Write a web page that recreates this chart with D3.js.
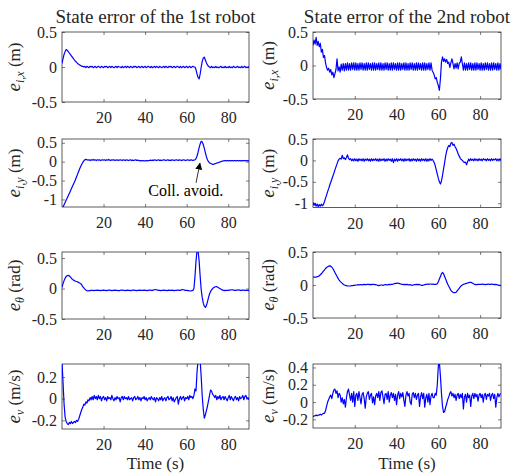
<!DOCTYPE html>
<html>
<head>
<meta charset="UTF-8">
<title>State error</title>
<script src="https://d3js.org/d3.v7.min.js"></script>
<style>
  body { margin:0; background:#fff; }
  svg text { font-family: "Liberation Serif", "Times New Roman", Times, "DejaVu Serif", serif; fill:#262626; }
</style>
</head>
<body>
<svg id="fig" width="513" height="475"></svg>
<script>
// samples every 0.5 s, t = 0 .. 90
const dt = 0.5;

// e_x, robot 1
const ex1 = [
  0.05,0.12,0.18,0.22,0.25,0.24,0.22,0.2,0.18,0.16,0.14,0.12,0.1,0.08,0.07,0.05,0.04,0.03,0.02,0.01,
  0.01,0,0.01,-0.01,0.01,0,-0.01,0.01,0,0.01,-0.01,0,0.01,-0.01,0,0.01,0,-0.01,0.01,0,
  -0.01,0.01,0,0.01,-0.01,0,0.01,-0.01,0.01,0,-0.01,0,0.01,-0.01,0.01,0,0,-0.01,0.01,-0.01,
  0,0.01,-0.01,0.01,0,-0.01,0.01,0,-0.01,0.01,0,0.01,-0.01,0,0.01,-0.01,0,0.01,-0.01,0,
  0.01,-0.01,0,0.01,0,-0.01,0.01,-0.01,0,0.01,-0.01,0.01,0,-0.01,0.01,0,-0.01,0,0.01,-0.01,
  0.01,0,-0.01,0.01,0,0.01,-0.01,0,0.01,-0.01,0,0.01,0,-0.01,0.01,-0.01,0,0.01,-0.01,0,
  0.01,-0.01,0,0.01,-0.01,0,0.01,0,0,-0.04,-0.1,-0.15,-0.17,-0.1,0,0.08,0.13,0.14,0.1,0.06,
  0.03,0.01,0,-0.01,0.01,-0.01,0,-0.01,0.01,-0.01,0,-0.01,0,0.01,-0.01,0,-0.01,0.01,-0.01,0,
  -0.01,0.01,-0.01,0,-0.01,0.01,0,-0.01,0,0.01,-0.01,0,-0.01,0.01,-0.01,0,0.01,-0.01,0,-0.01,0.01
];

// e_x, robot 2
const ex2 = [
  0.3,0.38,0.32,0.42,0.3,0.36,0.28,0.33,0.2,0.24,0.12,0.15,0.04,-0.03,-0.07,-0.04,-0.1,-0.06,-0.14,-0.1,
  -0.18,-0.12,-0.06,0.1,-0.08,-0.02,-0.1,0.02,-0.07,0.03,-0.08,0.03,-0.07,0.04,-0.07,0.03,-0.07,0.04,-0.06,0.04,
  -0.07,0.04,-0.07,0.03,-0.07,0.04,-0.06,0.04,-0.07,0.03,-0.07,0.04,-0.07,0.04,-0.06,0.03,-0.07,0.04,-0.07,0.04,
  -0.07,0.03,-0.06,0.04,-0.07,0.04,-0.07,0.03,-0.07,0.04,-0.06,0.04,-0.07,0.03,-0.07,0.04,-0.07,0.04,-0.06,0.03,
  -0.07,0.04,-0.07,0.04,-0.07,0.03,-0.06,0.04,-0.07,0.04,-0.07,0.03,-0.07,0.04,-0.06,0.04,-0.07,0.03,-0.07,0.04,
  -0.07,0.04,-0.06,0.03,-0.07,0.04,-0.07,0.04,-0.07,0.03,-0.06,0.04,-0.07,0.04,-0.07,-0.1,-0.14,-0.2,-0.18,-0.25,
  -0.3,-0.37,-0.2,0.05,0.13,0.06,0.1,0.05,0.09,0.03,0.05,-0.03,0.04,0.1,0.03,-0.05,0.03,-0.04,0.04,-0.05,
  0.03,0.05,0.13,0.03,-0.07,0.04,-0.07,0.03,-0.07,0.04,-0.06,0.04,-0.07,0.03,-0.07,0.04,-0.07,0.04,-0.06,0.03,
  -0.07,0.04,-0.07,0.03,-0.07,0.04,-0.06,0.04,-0.07,0.03,-0.07,0.04,-0.07,0.04,-0.06,0.03,-0.07,0.04,-0.07,0.03,-0.06
];

// e_y, robot 1
const ey1 = [
  -1.25,-1.2,-1.14,-1.08,-1.02,-0.96,-0.9,-0.84,-0.78,-0.72,-0.66,-0.6,-0.54,-0.47,-0.4,-0.33,-0.26,-0.19,-0.13,-0.07,
  -0.02,0.02,0.05,0.06,0.05,0.04,0.05,0.03,0.05,0.04,0.06,0.04,0.05,0.03,0.05,0.04,0.05,0.03,0.04,0.05,
  0.04,0.05,0.03,0.05,0.04,0.06,0.04,0.03,0.05,0.04,0.05,0.03,0.04,0.05,0.03,0.04,0.05,0.04,0.03,0.05,
  0.04,0.03,0.05,0.04,0.03,0.04,0.05,0.03,0.04,0.03,0.04,0.05,0.03,0.04,0.03,0.02,0.03,0.02,0.03,0.02,
  0.02,0.03,0.02,0.03,0.03,0.04,0.03,0.04,0.03,0.05,0.04,0.03,0.04,0.05,0.03,0.04,0.03,0.04,0.05,0.04,
  0.03,0.04,0.05,0.03,0.04,0.03,0.05,0.04,0.03,0.04,0.05,0.04,0.03,0.05,0.04,0.03,0.04,0.05,0.04,0.03,
  0.04,0.05,0.04,0.03,0.05,0.04,0.03,0.04,0.05,0.08,0.15,0.25,0.37,0.47,0.54,0.52,0.45,0.35,0.24,0.13,
  0.05,0,-0.03,-0.05,-0.06,-0.07,-0.07,-0.06,-0.05,-0.04,-0.03,-0.02,-0.01,0,0.01,0.02,0.02,0.03,0.02,0.03,
  0.02,0.03,0.02,0.03,0.03,0.02,0.03,0.02,0.03,0.03,0.02,0.03,0.02,0.03,0.02,0.03,0.03,0.02,0.03,0.02,0.03
];

// e_y, robot 2
const ey2 = [
  -0.98,-1.05,-1.0,-1.07,-1.02,-1.08,-1.03,-1.07,-1.02,-1.06,-1.03,-0.96,-0.88,-0.81,-0.73,-0.66,-0.58,-0.51,-0.44,-0.37,
  -0.3,-0.22,-0.15,-0.08,-0.01,0.03,0.05,0.03,0.12,0.04,0.06,0.02,0.07,0.13,0.05,0.02,0.04,-0.01,0.03,-0.01,
  0.04,-0.01,0.03,-0.02,0.04,0,0.03,-0.01,0.04,-0.02,0.03,0,0.04,-0.01,0.03,-0.02,0.04,-0.01,0.03,0,
  0.04,-0.01,0.03,-0.02,0.04,-0.01,0.03,0,0.04,-0.02,0.03,-0.01,0.04,0,0.03,-0.02,0.04,-0.05,0.03,-0.01,
  0.04,-0.02,0.03,0,0.04,-0.01,0.03,-0.02,0.04,-0.01,0.03,0,0.04,-0.02,0.03,-0.01,0.04,0,0.03,-0.02,
  0.04,-0.01,0.03,-0.02,0.04,0,0.03,-0.01,0.04,-0.02,0.03,-0.01,0.04,0,0.03,0,-0.05,-0.12,-0.22,-0.32,
  -0.42,-0.5,-0.55,-0.48,-0.35,-0.2,-0.05,0.1,0.22,0.3,0.35,0.32,0.4,0.42,0.35,0.38,0.32,0.28,0.22,0.15,
  0.1,0.05,0.02,0,-0.03,-0.05,-0.04,-0.1,-0.03,0.03,-0.01,0.04,0,0.03,-0.01,0.04,0,0.03,-0.01,0.04,
  0,0.03,-0.01,0.04,0.01,0.03,-0.01,0.04,0,0.03,-0.01,0.04,0,0.03,0.01,0.04,-0.01,0.03,0,0.04,0
];

// e_theta, robot 1
const th1 = [
  0.02,0.08,0.13,0.17,0.2,0.21,0.215,0.21,0.19,0.17,0.15,0.14,0.13,0.12,0.115,0.11,0.1,0.09,0.08,0.06,
  0.03,0.01,-0.01,-0.025,-0.035,-0.04,-0.035,-0.035,-0.03,-0.03,-0.03,-0.035,-0.03,-0.03,-0.025,-0.03,-0.03,-0.035,-0.03,-0.03,
  -0.025,-0.03,-0.03,-0.035,-0.03,-0.025,-0.025,-0.03,-0.035,-0.03,-0.03,-0.025,-0.03,-0.03,-0.035,-0.035,-0.03,-0.025,-0.025,-0.03,
  -0.03,-0.035,-0.03,-0.025,-0.03,-0.03,-0.035,-0.03,-0.025,-0.025,-0.03,-0.03,-0.035,-0.03,-0.03,-0.025,-0.03,-0.03,-0.03,-0.025,
  -0.03,-0.03,-0.035,-0.03,-0.025,-0.025,-0.03,-0.03,-0.025,-0.02,-0.015,-0.02,-0.025,-0.03,-0.03,-0.035,-0.03,-0.03,-0.025,-0.03,
  -0.03,-0.035,-0.03,-0.025,-0.03,-0.03,-0.025,-0.03,-0.035,-0.03,-0.03,-0.025,-0.025,-0.03,-0.03,-0.02,-0.015,-0.02,-0.025,-0.03,
  -0.03,-0.035,-0.035,-0.04,-0.04,-0.035,-0.03,0,0.2,0.45,0.63,0.62,0.45,0.2,-0.02,-0.15,-0.24,-0.29,-0.31,-0.28,
  -0.22,-0.15,-0.09,-0.05,-0.02,0,0.015,0.025,0.03,0.03,0.02,0.01,0,-0.01,-0.02,-0.03,-0.03,-0.035,-0.03,-0.03,
  -0.03,-0.025,-0.025,-0.02,-0.02,-0.025,-0.03,-0.03,-0.025,-0.025,-0.02,-0.025,-0.03,-0.03,-0.025,-0.025,-0.03,-0.03,-0.03,-0.03,-0.035
];

// e_theta, robot 2
const th2 = [
  0.12,0.12,0.12,0.12,0.125,0.13,0.14,0.155,0.17,0.19,0.21,0.23,0.25,0.265,0.275,0.285,0.29,0.285,0.27,0.25,
  0.22,0.19,0.16,0.13,0.1,0.075,0.055,0.04,0.025,0.01,0,-0.005,-0.01,-0.015,-0.015,-0.015,-0.015,-0.01,-0.01,-0.005,
  -0.005,0,0,0.005,0,0.005,0.005,0,0.005,0.01,0.005,0.005,0.01,0.01,0.005,0.01,0.005,0.01,0.01,0.005,
  0.005,0,-0.005,-0.01,-0.005,0,0,-0.005,0,0.005,0.005,0,0.005,0.01,0.005,0.01,0.01,0.015,0.02,0.025,
  0.025,0.03,0.025,0.02,0.015,0.01,0.01,0.005,0.01,0.005,0.01,0.005,0,0.005,0,-0.005,0,0.005,0.005,0.01,
  0.005,0.01,0.005,0,-0.005,-0.005,0,0.005,0.01,0.01,0.015,0.01,0.015,0.015,0.01,0.015,0.01,0.01,0.01,0.02,
  0.05,0.09,0.13,0.17,0.19,0.17,0.13,0.09,0.05,0.01,-0.02,-0.05,-0.08,-0.1,-0.11,-0.115,-0.115,-0.11,-0.09,-0.07,
  -0.05,-0.03,-0.01,0,0.01,0.015,0.02,0.025,0.03,0.035,0.04,0.04,0.035,0.025,0.015,0.01,0.005,0.005,0.01,0.01,
  0.01,0.01,0.015,0.01,0.01,0.005,0.01,0.01,0.015,0.01,0.01,0.015,0.01,0.01,0.005,0.01,0.005,0,-0.005,-0.005,-0.01
];

// e_v, robot 1
const ev1 = [
  0.34,0.15,-0.05,-0.17,-0.21,-0.23,-0.24,-0.22,-0.23,-0.21,-0.23,-0.22,-0.21,-0.22,-0.2,-0.21,-0.19,-0.16,-0.13,-0.1,
  -0.08,-0.05,-0.06,-0.03,-0.04,-0.01,-0.02,0.01,-0.01,0.02,-0.01,0.03,0,0.02,-0.01,0.03,0,0.02,-0.02,0.01,
  0.02,-0.01,0.01,-0.02,0.02,0,0.01,-0.01,0.03,0,-0.02,0.01,-0.01,0.02,0,0.01,-0.03,0.01,0.02,-0.01,
  0.02,0,0.01,-0.01,0.02,-0.01,0,0.01,-0.02,0.01,0.02,-0.01,0,0.02,-0.01,0.01,-0.02,0.01,0,0.02,
  -0.01,0.01,-0.02,0,0.01,-0.01,0.02,0,-0.01,0.01,-0.03,0.01,0,-0.02,0.01,-0.01,0.02,-0.02,0,0.01,
  -0.02,0.01,0.02,-0.01,0,0.02,-0.02,0.01,-0.03,-0.01,0.01,0.02,-0.05,0,0.02,-0.01,0.01,0.02,-0.02,0.01,
  0,0.02,-0.01,0.03,0.01,0.02,0,0.03,0.09,0.07,0.25,0.36,0.38,0.35,0.2,0.02,-0.1,-0.18,-0.15,-0.11,
  -0.07,-0.02,0.03,0.08,0.07,0.04,0.03,0.01,0.03,-0.01,0.02,0,0.03,-0.01,0.01,0.02,-0.01,0.02,0,-0.02,
  0.01,0.03,-0.01,0.02,0,-0.02,0.01,0.02,-0.01,0.01,-0.02,0.02,0,0.01,0.03,-0.01,0.02,0.03,0,0.01,-0.01
];

// e_v, robot 2
const ev2 = [
  -0.17,-0.16,-0.16,-0.15,-0.16,-0.15,-0.15,-0.14,-0.15,-0.14,-0.13,-0.13,-0.1,-0.05,0,0.03,0.06,0.08,0.04,0.1,
  0.14,0.15,0.1,0.13,0.05,0.1,0.08,0,0.05,-0.02,0.03,-0.06,0.05,0.12,0.15,0.08,0.02,0.1,0,0.12,
  -0.05,0.08,0.1,0.02,0.12,0.05,-0.02,0.09,0.11,0.04,-0.07,0.06,0.1,0.12,0.03,0.08,0.1,-0.01,0.06,-0.03,
  0.07,0.1,0.05,0.12,0.02,0.11,0.13,0.06,-0.02,0.09,0.1,0.03,0.12,0,0.08,0.11,0.05,0.1,0.02,0.09,
  -0.03,0.08,0.12,0.04,0.1,0.06,0.11,0.02,-0.05,0.08,0.12,0.07,0.1,0,-0.03,0.09,0.11,0.05,0.1,0.03,
  0.08,0.1,-0.05,0.06,0.11,0.04,0.1,-0.06,0.05,0.09,0,0.1,-0.03,0.07,0.1,0.05,0.05,0.1,0.08,0.2,
  0.42,0.46,0.3,0.1,-0.05,-0.12,-0.11,-0.06,-0.02,0.03,0.06,0.1,0.12,0.07,0.1,0.05,0.09,0.02,0.08,0.1,
  0.04,0.09,0.05,0.1,-0.08,0.06,0.09,0,0.1,0.05,0.08,-0.05,0.07,0.1,0.04,0.1,0.06,0.09,0.01,0.08,
  0.1,0.05,0.09,0,0.08,0.1,0.03,0.09,0.07,0.1,0.02,0.08,0.1,0.04,0.09,-0.06,0.05,0.1,0.06,0.09,0.1
];

const xTicks = [20, 40, 60, 80];
const ticksHalf = [-0.5, 0, 0.5];
const ticksEy = [-1, -0.5, 0, 0.5];
const ticksEv1 = [-0.2, 0, 0.2];
const ticksEv2 = [-0.2, 0, 0.2, 0.4];
const titles = ["State error of the 1st robot", "State error of the 2nd robot"];

const annotText = "Coll. avoid.";
const annotTextAt = [41.5, -0.91];
const arrowFrom = [64.5, -0.56];
const arrowTo = [66.4, -0.04];

// ---- layout ----
const FONT = '"Liberation Serif", "Times New Roman", Times, "DejaVu Serif", serif';
const svg = d3.select('#fig').attr('font-family', FONT);
const cols = [[62, 249], [313, 501]];
const rows = [
  [[32, 102], [32, 99]],
  [[139, 207], [139, 207.5]],
  [[252, 319], [252, 318]],
  [[364, 429], [364, 428]]
];
const labX = [20, 274];

const panels = [
  {c:0, r:0, data:ex1, dom:[-0.5, 0.5], ticks:ticksHalf, sub:'i,x', unit:'(m)'},
  {c:1, r:0, data:ex2, dom:[-0.5, 0.5], ticks:ticksHalf, sub:'i,x', unit:'(m)'},
  {c:0, r:1, data:ey1, dom:[-1.2, 0.6], ticks:ticksEy, sub:'i,y', unit:'(m)'},
  {c:1, r:1, data:ey2, dom:[-1.1, 0.5], ticks:ticksEy, sub:'i,y', unit:'(m)'},
  {c:0, r:2, data:th1, dom:[-0.5, 0.6], ticks:ticksHalf, sub:'θ', unit:'(rad)'},
  {c:1, r:2, data:th2, dom:[-0.5, 0.5], ticks:ticksHalf, sub:'θ', unit:'(rad)'},
  {c:0, r:3, data:ev1, dom:[-0.28, 0.32], ticks:ticksEv1, sub:'v', unit:'(m/s)'},
  {c:1, r:3, data:ev2, dom:[-0.3, 0.44], ticks:ticksEv2, sub:'v', unit:'(m/s)'}
];

const defs = svg.append('defs');
defs.append('marker')
  .attr('id', 'ahead')
  .attr('viewBox', '0 0 10 10')
  .attr('refX', 9).attr('refY', 5)
  .attr('markerWidth', 7).attr('markerHeight', 7)
  .attr('markerUnits', 'userSpaceOnUse')
  .attr('orient', 'auto')
  .append('path').attr('d', 'M0,0L10,5L0,10z').attr('fill', '#000');

panels.forEach((p, k) => {
  const [x0, x1] = cols[p.c];
  const [y0, y1] = rows[p.r][p.c];
  const x = d3.scaleLinear().domain([0, 90]).range([x0, x1]);
  const y = d3.scaleLinear().domain(p.dom).range([y1, y0]);
  const g = svg.append('g');

  defs.append('clipPath').attr('id', 'clip' + k)
    .append('rect').attr('x', x0).attr('y', y0).attr('width', x1 - x0).attr('height', y1 - y0);

  // axes, ticks inward on all sides
  const axB = g.append('g').attr('transform', `translate(0,${y1})`)
    .call(d3.axisBottom(x).tickValues(xTicks).tickSizeInner(-3).tickSizeOuter(0).tickPadding(10));
  const axT = g.append('g').attr('transform', `translate(0,${y0})`)
    .call(d3.axisTop(x).tickValues(xTicks).tickSizeInner(-3).tickSizeOuter(0).tickFormat(''));
  const axL = g.append('g').attr('transform', `translate(${x0},0)`)
    .call(d3.axisLeft(y).tickValues(p.ticks).tickSizeInner(-3).tickSizeOuter(0).tickPadding(5).tickFormat(d => String(d)));
  const axR = g.append('g').attr('transform', `translate(${x1},0)`)
    .call(d3.axisRight(y).tickValues(p.ticks).tickSizeInner(-3).tickSizeOuter(0).tickFormat(''));
  [axB, axT, axL, axR].forEach(a => {
    a.attr('font-family', FONT).attr('font-size', 16);
    a.select('.domain').remove();
    a.selectAll('line').attr('stroke', '#262626').attr('stroke-width', 0.6);
    a.selectAll('text').attr('fill', '#262626');
  });

  g.append('rect').attr('x', x0).attr('y', y0).attr('width', x1 - x0).attr('height', y1 - y0)
    .attr('fill', 'none').attr('stroke', '#262626').attr('stroke-width', 0.75);

  const line = d3.line().x((d, i) => x(i * dt)).y(d => y(d));
  g.append('path').datum(p.data)
    .attr('clip-path', `url(#clip${k})`)
    .attr('fill', 'none').attr('stroke', '#0000ff').attr('stroke-width', 1.2)
    .attr('stroke-linejoin', 'round')
    .attr('d', line);

  // y label
  const lab = g.append('text')
    .attr('transform', `translate(${labX[p.c]},${(y0 + y1) / 2}) rotate(-90)`)
    .attr('text-anchor', 'middle').attr('font-size', 17);
  lab.append('tspan').attr('font-style', 'italic').attr('font-size', 19).text('e');
  lab.append('tspan').attr('font-style', 'italic').attr('font-size', 12).attr('dy', 4).text(p.sub);
  lab.append('tspan').attr('dy', -4).text('\u00a0' + p.unit);

  if (p.r === 0) {
    svg.append('text').attr('x', (x0 + x1) / 2).attr('y', 22.5)
      .attr('text-anchor', 'middle').attr('font-size', 19).text(titles[p.c]);
  }
  if (p.r === 3) {
    svg.append('text').attr('x', (x0 + x1) / 2).attr('y', 469)
      .attr('text-anchor', 'middle').attr('font-size', 17).text('Time (s)');
  }
  if (k === 2) {
    g.append('line')
      .attr('x1', x(arrowFrom[0])).attr('y1', y(arrowFrom[1]))
      .attr('x2', x(arrowTo[0])).attr('y2', y(arrowTo[1]))
      .attr('stroke', '#000').attr('stroke-width', 0.8)
      .attr('marker-end', 'url(#ahead)');
    g.append('text').attr('x', x(annotTextAt[0])).attr('y', y(annotTextAt[1]))
      .attr('font-size', 16).style('fill', '#000').text(annotText);
  }
});
</script>
</body>
</html>
